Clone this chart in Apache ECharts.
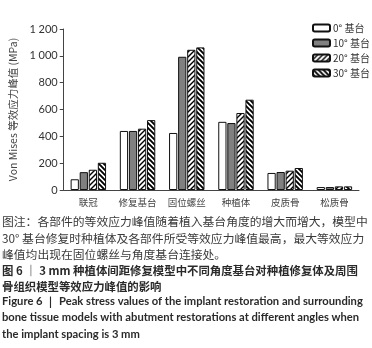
<!DOCTYPE html>
<html><head><meta charset="utf-8">
<script src="https://cdn.jsdelivr.net/npm/echarts@6/dist/echarts.min.js"></script>
<style>html,body{margin:0;padding:0;background:#fff;}#c{width:372px;height:348px;}</style>
</head><body><div id="c"></div>
<script>
const categories = ['联冠','修复基台','固位螺丝','种植体','皮质骨','松质骨'];
const seriesNames = ['0° 基台','10° 基台','20° 基台','30° 基台'];
const v0 = [80, 440, 425, 508, 127, 22];
const v10 = [133, 440, 993, 499, 134, 22];
const v20 = [151, 457, 1045, 574, 144, 27];
const v30 = [203, 521, 1063, 673, 164, 27];
const yTicks = [0, 200, 400, 600, 800, 1000, 1200];
const captionLines = [
  '图注：各部件的等效应力峰值随着植入基台角度的增大而增大，模型中',
  '30° 基台修复时种植体及各部件所受等效应力峰值最高，最大等效应力',
  '峰值均出现在固位螺丝与角度基台连接处。'
];
const titleLines = [
  '图 6 ｜ 3 mm 种植体间距修复模型中不同角度基台对种植修复体及周围',
  '骨组织模型等效应力峰值的影响'
];
const enLines = [
  'Figure 6 ｜ Peak stress values of the implant restoration and surrounding',
  'bone tissue models with abutment restorations at different angles when',
  'the implant spacing is 3 mm'
];

function stripe(dir, lw) {
  const s = 5;
  const c = document.createElement('canvas');
  c.width = s; c.height = s;
  const g = c.getContext('2d');
  g.fillStyle = '#fff'; g.fillRect(0,0,s,s);
  g.strokeStyle = '#000'; g.lineWidth = lw;
  g.beginPath();
  if (dir > 0) {
    g.moveTo(-1, s+1); g.lineTo(s+1, -1);
    g.moveTo(-1, 1); g.lineTo(1, -1);
    g.moveTo(s-1, s+1); g.lineTo(s+1, s-1);
  } else {
    g.moveTo(-1, -1); g.lineTo(s+1, s+1);
    g.moveTo(s-1, -1); g.lineTo(s+1, 1);
    g.moveTo(-1, s-1); g.lineTo(1, s+1);
  }
  g.stroke();
  return c;
}
const fills = ['#ffffff', '#808080', {image: stripe(1, 1.4), repeat: 'repeat'}, {image: stripe(-1, 1.9), repeat: 'repeat'}];
const vals = [v0, v10, v20, v30];

const chart = echarts.init(document.getElementById('c'));
const textStyleCap = {fontFamily: '"Noto Sans CJK SC"', fontSize: 11.8, fill: '#3a3a3a'};
const graphics = [];
captionLines.forEach((t, i) => graphics.push({type: 'text', left: 2, top: 216 + i * 16.3, style: Object.assign({text: t}, textStyleCap)}));
titleLines.forEach((t, i) => graphics.push({type: 'text', left: 2, top: 265 + i * 16.3, style: {text: t, fontFamily: '"Noto Sans CJK SC"', fontWeight: 'bold', fontSize: 11.4, fill: '#2a2a2a'}}));
enLines.forEach((t, i) => graphics.push({type: 'text', left: 2, top: 296 + i * 16.3, style: {text: t, fontFamily: 'Lato', fontWeight: 'bold', fontSize: 11.2, fill: '#2a2a2a'}}));

chart.setOption({
  animation: false,
  grid: {left: 46, right: 13, top: 29, bottom: 158},
  legend: {
    orient: 'vertical', left: 307, top: 18, itemWidth: 17, itemHeight: 7, itemGap: 5,
    textStyle: {fontFamily: '"Noto Sans CJK SC"', fontSize: 10, color: '#333', padding: [0,0,0,-2]},
    data: seriesNames
  },
  xAxis: {
    type: 'category', data: categories,
    axisLine: {lineStyle: {color: '#444', width: 1}},
    axisTick: {show: false},
    axisLabel: {interval: 0, fontFamily: '"Noto Sans CJK SC"', fontSize: 9.5, color: '#444', margin: 8}
  },
  yAxis: {
    type: 'value', min: 0, max: 1200, interval: 200,
    name: 'Von Mises 等效应力峰值 (MPa)', nameLocation: 'middle', nameGap: 33, nameRotate: 90,
    nameTextStyle: {fontFamily: '"Noto Sans CJK SC"', fontSize: 10.5, color: '#444'},
    axisLine: {show: true, lineStyle: {color: '#444', width: 1}},
    axisTick: {show: true, length: 4, lineStyle: {color: '#444'}},
    splitLine: {show: false},
    axisLabel: {fontFamily: 'Lato', fontSize: 11, color: '#333', margin: 6,
      formatter: v => yTicks.includes(v) ? String(v).replace(/\B(?=(\d{3})+(?!\d))/g, ' ') : ''}
  },
  series: seriesNames.map((n, i) => ({
    name: n, type: 'bar', data: vals[i], barGap: '10%', barCategoryGap: '28%',
    itemStyle: {color: fills[i], borderColor: '#111', borderWidth: 1}
  })),
  graphic: graphics
});
</script></body></html>
